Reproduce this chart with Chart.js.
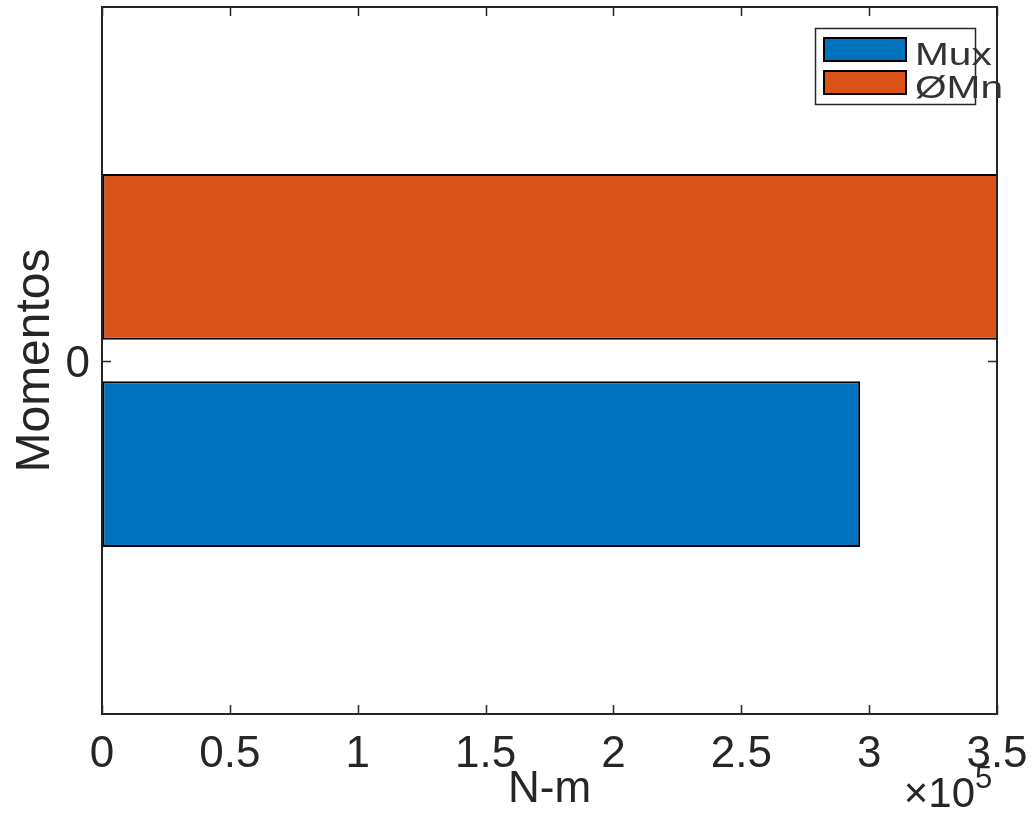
<!DOCTYPE html>
<html>
<head>
<meta charset="utf-8">
<script src="https://cdn.jsdelivr.net/npm/chart.js@4/dist/chart.umd.min.js"></script>
<style>
    html, body { margin: 0; padding: 0; background: #fff; overflow: hidden; }
    #wrap { width: 1032px; height: 814px; position: relative; }
</style>
</head>
<body>
<div id="wrap"><canvas id="momentChart"></canvas></div>
<script>
// Datos del gráfico
const categories = ['0'];
const seriesNames = ['Mux', 'ØMn'];
const muxValues = [2.965e5];
const phiMnValues = [3.62e5];   // sobrepasa el eje, queda recortada
const xTickValues = [0, 0.5e5, 1e5, 1.5e5, 2e5, 2.5e5, 3e5, 3.5e5];
const xTickLabels = ['0', '0.5', '1', '1.5', '2', '2.5', '3', '3.5'];
const xExponentLabel = '×10';
const xExponent = '5';

// Estilo tipo MATLAB
const STYLE = {
    axisColor: '#262626',
    textColor: '#262626',
    fontFamily: "'Liberation Sans', Arial, sans-serif",
    blue: '#0072BD',
    orange: '#D95319'
};
const seriesColors = { 'Mux': STYLE.blue, 'ØMn': STYLE.orange };

// Marco, marcas interiores, leyenda y exponente
const matlabFrame = {
    id: 'matlabFrame',
    afterDraw(chart) {
        const ctx = chart.ctx;
        const area = chart.chartArea;
        const xs = chart.scales.x;
        const ys = chart.scales.y;
        ctx.save();
        ctx.strokeStyle = STYLE.axisColor;
        ctx.lineWidth = 2;
        ctx.beginPath();
        ctx.moveTo(area.left, area.top);
        ctx.lineTo(area.right, area.top);
        ctx.lineTo(area.right, area.bottom);
        ctx.stroke();

        // marcas hacia adentro
        ctx.lineWidth = 1.5;
        ctx.beginPath();
        xTickValues.forEach(v => {
            const px = Math.round(xs.getPixelForValue(v)) + 0.5;
            ctx.moveTo(px, area.bottom);
            ctx.lineTo(px, area.bottom - 9);
            ctx.moveTo(px, area.top);
            ctx.lineTo(px, area.top + 9);
        });
        categories.forEach((c, i) => {
            const py = Math.round(ys.getPixelForValue(i)) + 0.5;
            ctx.moveTo(area.left, py);
            ctx.lineTo(area.left + 9, py);
            ctx.moveTo(area.right, py);
            ctx.lineTo(area.right - 9, py);
        });
        ctx.stroke();

        // exponente del eje x
        ctx.fillStyle = STYLE.textColor;
        ctx.font = '42px ' + STYLE.fontFamily;
        ctx.textAlign = 'right';
        ctx.textBaseline = 'alphabetic';
        ctx.fillText(xExponentLabel, 975, 807);
        ctx.font = '31px ' + STYLE.fontFamily;
        ctx.textAlign = 'left';
        ctx.fillText(xExponent, 975, 788);

        // leyenda
        ctx.fillStyle = '#fff';
        ctx.fillRect(815, 28, 160, 76);
        ctx.strokeStyle = STYLE.axisColor;
        ctx.lineWidth = 1.5;
        ctx.strokeRect(815.5, 28.5, 160, 76);
        seriesNames.forEach((name, i) => {
            const top = 37 + i * 33;
            ctx.fillStyle = seriesColors[name];
            ctx.fillRect(823, top, 84, 25);
            ctx.strokeStyle = '#000';
            ctx.lineWidth = 2;
            ctx.strokeRect(824, top + 1, 82, 23);
            ctx.save();
            ctx.translate(915, top + 28);
            ctx.scale(1.27, 1);
            ctx.fillStyle = '#333';
            ctx.font = '32px ' + STYLE.fontFamily;
            ctx.textAlign = 'left';
            ctx.fillText(name, 0, 0);
            ctx.restore();
        });
        ctx.restore();
    }
};

const ctx = document.getElementById('momentChart').getContext('2d');
const axisFont = { family: STYLE.fontFamily, size: 44 };

new Chart(ctx, {
    type: 'bar',
    data: {
        labels: categories,
        datasets: [
            {
                label: 'ØMn',
                data: phiMnValues,
                backgroundColor: STYLE.orange,
                borderColor: '#000',
                borderWidth: 2,
                borderSkipped: false,
                clip: 0
            },
            {
                label: 'Mux',
                data: muxValues,
                backgroundColor: STYLE.blue,
                borderColor: '#000',
                borderWidth: 2,
                borderSkipped: false,
                clip: 0
            }
        ]
    },
    options: {
        indexAxis: 'y',
        responsive: true,
        maintainAspectRatio: false,
        animation: false,
        barPercentage: 0.8,
        categoryPercentage: 0.586,
        layout: { padding: { top: 7, right: 35, left: 0, bottom: 0 } },
        plugins: {
            legend: { display: false },
            tooltip: { enabled: false }
        },
        scales: {
            x: {
                type: 'linear',
                min: 0,
                max: 3.5e5,
                afterBuildTicks: scale => { scale.ticks = xTickValues.map(v => ({ value: v })); },
                afterFit: scale => {
                    scale.height = 100;
                    scale.paddingLeft = 0;
                    scale.paddingRight = 0;
                },
                ticks: {
                    autoSkip: false,
                    maxRotation: 0,
                    padding: 14,
                    color: STYLE.textColor,
                    font: axisFont,
                    callback: (value, index) => xTickLabels[index]
                },
                grid: { drawOnChartArea: false, drawTicks: false },
                border: { display: true, color: STYLE.axisColor, width: 2 },
                title: {
                    display: true,
                    text: 'N-m',
                    color: STYLE.textColor,
                    font: axisFont,
                    padding: { top: 0, bottom: -2 }
                }
            },
            y: {
                type: 'category',
                offset: true,
                afterFit: scale => {
                    scale.width = 102;
                    scale.paddingTop = 0;
                    scale.paddingBottom = 0;
                },
                ticks: {
                    padding: 12,
                    labelOffset: 4,
                    color: STYLE.textColor,
                    font: axisFont
                },
                grid: { drawOnChartArea: false, drawTicks: false },
                border: { display: true, color: STYLE.axisColor, width: 2 },
                title: {
                    display: true,
                    text: 'Momentos',
                    color: STYLE.textColor,
                    font: { family: STYLE.fontFamily, size: 48 },
                    padding: { top: 7, bottom: 0 }
                }
            }
        }
    },
    plugins: [matlabFrame]
});
</script>
</body>
</html>
